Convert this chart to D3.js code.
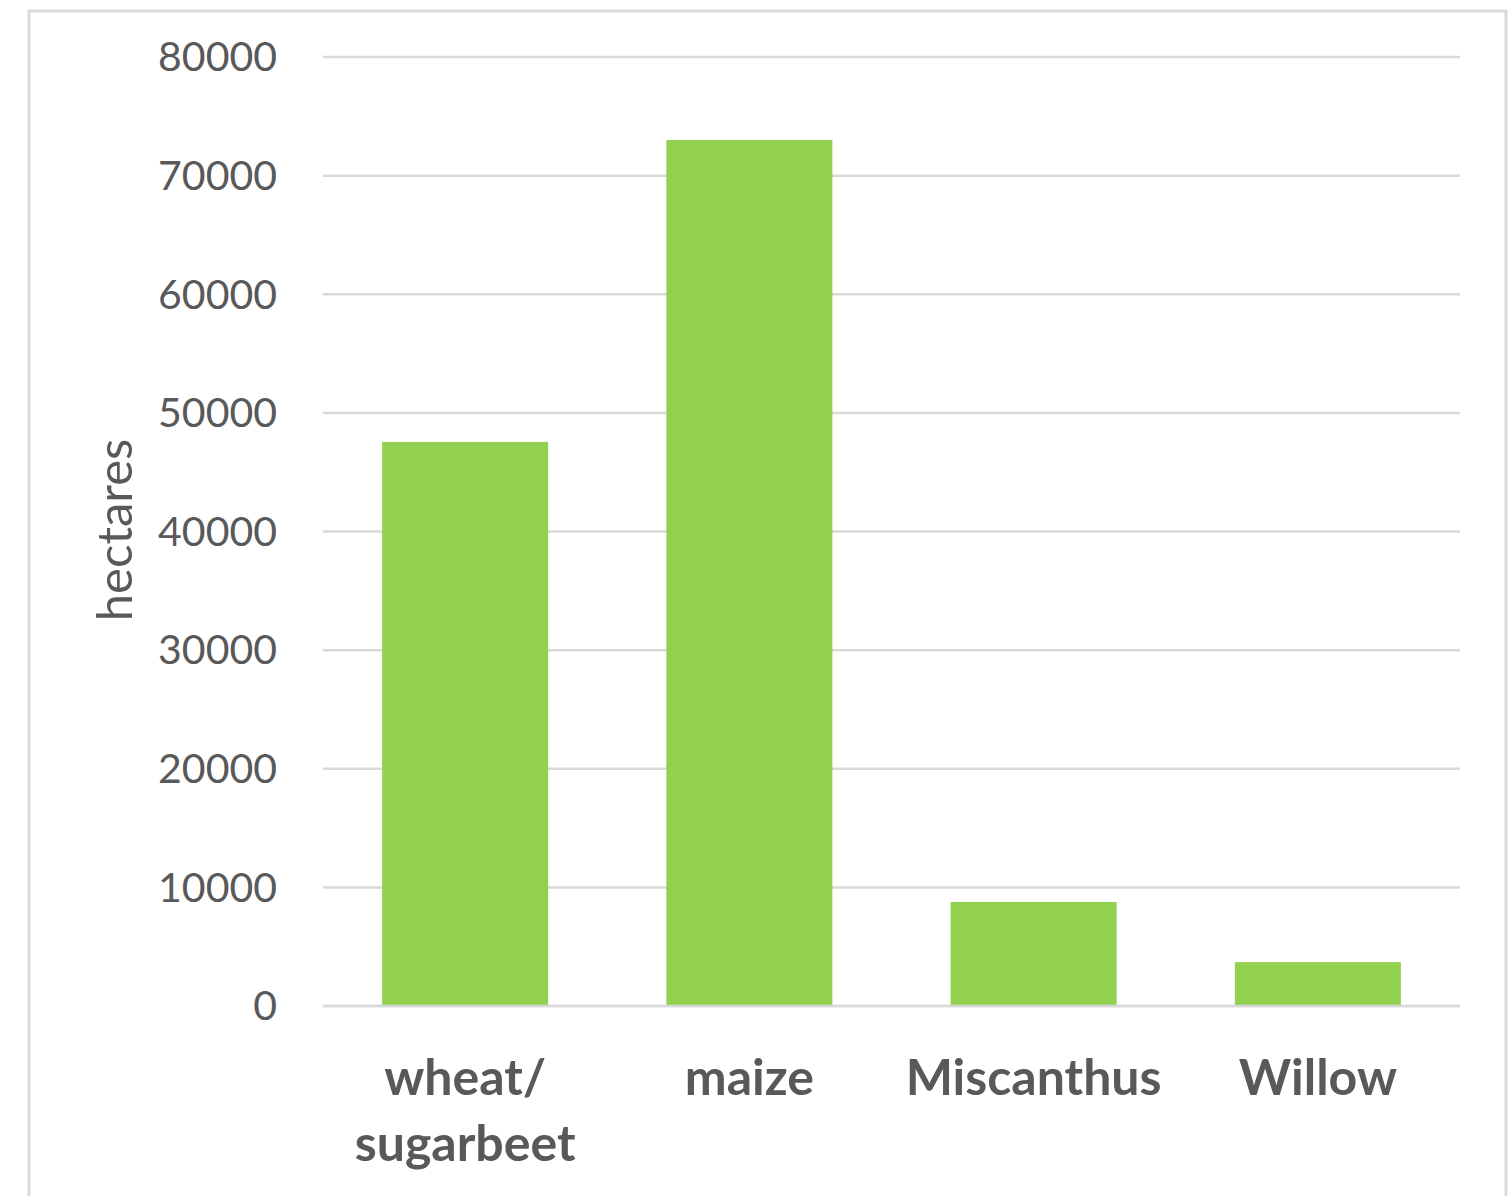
<!DOCTYPE html>
<html>
<head>
<meta charset="utf-8">
<script src="https://cdn.jsdelivr.net/npm/d3@7"></script>
<style>
  html, body { margin: 0; padding: 0; background: #fff; }
  svg { display: block; }
</style>
</head>
<body>
<svg id="chart" width="1510" height="1196"></svg>
<script>
const categories = ["wheat/ sugarbeet", "maize", "Miscanthus", "Willow"];
const values = [47550, 73000, 8770, 3700];
const yTicks = [0, 10000, 20000, 30000, 40000, 50000, 60000, 70000, 80000];
const yLabel = "hectares";

const svg = d3.select("#chart");
const plot = { left: 323, right: 1460, top: 57, bottom: 1006 };

svg.append("rect")
  .attr("x", 29).attr("y", 11)
  .attr("width", 1477).attr("height", 1200)
  .attr("fill", "#fff").attr("stroke", "#d9d9d9").attr("stroke-width", 3);

const x = d3.scaleBand()
  .domain(categories)
  .range([plot.left, plot.right])
  .paddingInner(0.416)
  .paddingOuter(0.208);

const y = d3.scaleLinear()
  .domain([0, 80000])
  .range([plot.bottom, plot.top]);

// gridlines
svg.append("g")
  .selectAll("line")
  .data(yTicks)
  .join("line")
  .attr("x1", plot.left).attr("x2", plot.right)
  .attr("y1", d => y(d)).attr("y2", d => y(d))
  .attr("stroke", "#d9d9d9").attr("stroke-width", 2.5);

// bars
svg.append("g")
  .selectAll("rect")
  .data(categories)
  .join("rect")
  .attr("x", d => x(d))
  .attr("width", x.bandwidth())
  .attr("y", (d, i) => y(values[i]))
  .attr("height", (d, i) => y(0) - y(values[i]))
  .attr("fill", "#92d050");

// baseline
svg.append("line")
  .attr("x1", plot.left).attr("x2", plot.right)
  .attr("y1", y(0)).attr("y2", y(0))
  .attr("stroke", "#d9d9d9").attr("stroke-width", 2.5);

// y tick labels
svg.append("g")
  .selectAll("text")
  .data(yTicks)
  .join("text")
  .attr("x", 277)
  .attr("y", d => y(d))
  .attr("dy", "0.35em")
  .attr("text-anchor", "end")
  .attr("font-family", "Lato, 'Open Sans', sans-serif")
  .attr("font-size", 41)
  .attr("fill", "#595959")
  .text(d => d);

// category labels
const cat = svg.append("g")
  .selectAll("text")
  .data(categories)
  .join("text")
  .attr("x", d => x(d) + x.bandwidth() / 2)
  .attr("y", 1095)
  .attr("text-anchor", "middle")
  .attr("font-family", "Lato, 'Open Sans', sans-serif")
  .attr("font-weight", "bold")
  .attr("font-size", 50)
  .attr("fill", "#595959");

cat.each(function(d) {
  const lines = d.split(" ");
  const t = d3.select(this);
  lines.forEach((ln, i) => {
    t.append("tspan")
      .attr("x", x(d) + x.bandwidth() / 2)
      .attr("dy", i === 0 ? 0 : 66)
      .text(ln);
  });
});

// y axis label
svg.append("text")
  .attr("transform", `translate(132, 530) rotate(-90)`)
  .attr("text-anchor", "middle")
  .attr("font-family", "Lato, 'Open Sans', sans-serif")
  .attr("font-size", 49)
  .attr("fill", "#595959")
  .text(yLabel);
</script>
</body>
</html>
